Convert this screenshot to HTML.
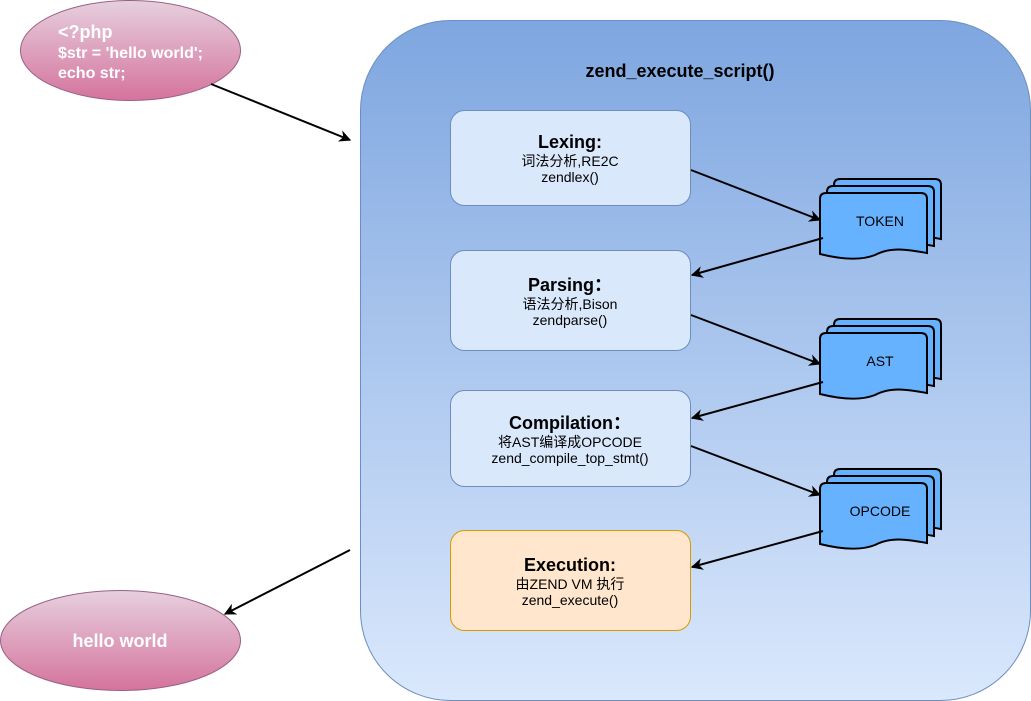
<!DOCTYPE html>
<html><head><meta charset="utf-8"><style>
html,body{margin:0;padding:0;background:#fff;width:1031px;height:701px;overflow:hidden}
text{font-family:"Liberation Sans","Noto Sans CJK SC",sans-serif}
</style></head><body>
<svg width="1031" height="701" viewBox="0 0 1031 701" xmlns="http://www.w3.org/2000/svg">
<defs>
<linearGradient id="bg" x1="0" y1="0" x2="0" y2="1"><stop offset="0" stop-color="#7EA6E0"/><stop offset="1" stop-color="#DAE8FC"/></linearGradient>
<linearGradient id="pk" x1="0" y1="0" x2="0" y2="1"><stop offset="0" stop-color="#E6D0DE"/><stop offset="1" stop-color="#D5739D"/></linearGradient>
<marker id="ah" viewBox="0 0 10 10" refX="9" refY="5" markerWidth="12" markerHeight="12" markerUnits="userSpaceOnUse" orient="auto"><path d="M0,0 L10,5 L0,10 L3,5 Z" fill="#000"/></marker>
<g id="pg"><path d="M0,6 Q0,0 6,0 H101 Q107,0 107,6 V60 C85,56 70,54 55,62 C40,68 20,66 0,61 Z" fill="#66B2FF" stroke="#000" stroke-width="2"/></g>
<g id="doc"><use href="#pg" x="14" y="-14"/><use href="#pg" x="7" y="-7"/><use href="#pg"/></g>
</defs>
<rect x="360.5" y="20.5" width="670" height="680" rx="90" fill="url(#bg)" stroke="#6C8EBF"/>
<text x="680" y="77" text-anchor="middle" font-size="18" font-weight="bold">zend_execute_script()</text>
<ellipse cx="130.5" cy="50.5" rx="110" ry="50" fill="url(#pk)" stroke="#996185"/>
<text fill="#fff" font-weight="bold" font-size="18"><tspan x="58" y="38">&lt;?php</tspan></text>
<text fill="#fff" font-weight="bold" font-size="16"><tspan x="58" y="58">$str = 'hello world';</tspan><tspan x="58" y="78">echo str;</tspan></text>
<ellipse cx="120.5" cy="640.5" rx="120" ry="50" fill="url(#pk)" stroke="#996185"/>
<text x="120" y="647" text-anchor="middle" fill="#fff" font-weight="bold" font-size="18">hello world</text>
<rect x="450.5" y="110.5" width="240" height="95" rx="14" fill="#DAE8FC" stroke="#6C8EBF"/>
<rect x="450.5" y="250.5" width="240" height="100" rx="14" fill="#DAE8FC" stroke="#6C8EBF"/>
<rect x="450.5" y="390.5" width="240" height="96" rx="14" fill="#DAE8FC" stroke="#6C8EBF"/>
<rect x="450.5" y="530.5" width="240" height="100" rx="14" fill="#FFE6CC" stroke="#D79B00"/>
<g text-anchor="middle" font-size="14">
<text x="570" y="148" font-size="18" font-weight="bold">Lexing:</text>
<text x="570" y="166">词法分析,RE2C</text><text x="570" y="182">zendlex()</text>
<text x="570" y="291" font-size="18" font-weight="bold">Parsing：</text>
<text x="570" y="309">语法分析,Bison</text><text x="570" y="325">zendparse()</text>
<text x="570" y="429" font-size="18" font-weight="bold">Compilation：</text>
<text x="570" y="447">将AST编译成OPCODE</text><text x="570" y="463">zend_compile_top_stmt()</text>
<text x="570" y="571" font-size="18" font-weight="bold">Execution:</text>
<text x="570" y="589">由ZEND VM 执行</text><text x="570" y="605">zend_execute()</text>
</g>
<use href="#doc" x="820" y="193"/>
<use href="#doc" x="820" y="333"/>
<use href="#doc" x="820" y="483"/>
<g font-size="14" text-anchor="middle">
<text x="880" y="226">TOKEN</text><text x="880" y="366">AST</text><text x="880" y="516">OPCODE</text>
</g>
<g stroke="#000" stroke-width="2" marker-end="url(#ah)" fill="none">
<path d="M211,84 L350,140"/>
<path d="M350,550 L225,614"/>
<path d="M691,170 L820,220"/>
<path d="M823,238 L692,275"/>
<path d="M691,315 L820,364"/>
<path d="M823,382 L692,418"/>
<path d="M691,446 L820,495"/>
<path d="M823,531 L692,567"/>
</g>
</svg>
</body></html>
